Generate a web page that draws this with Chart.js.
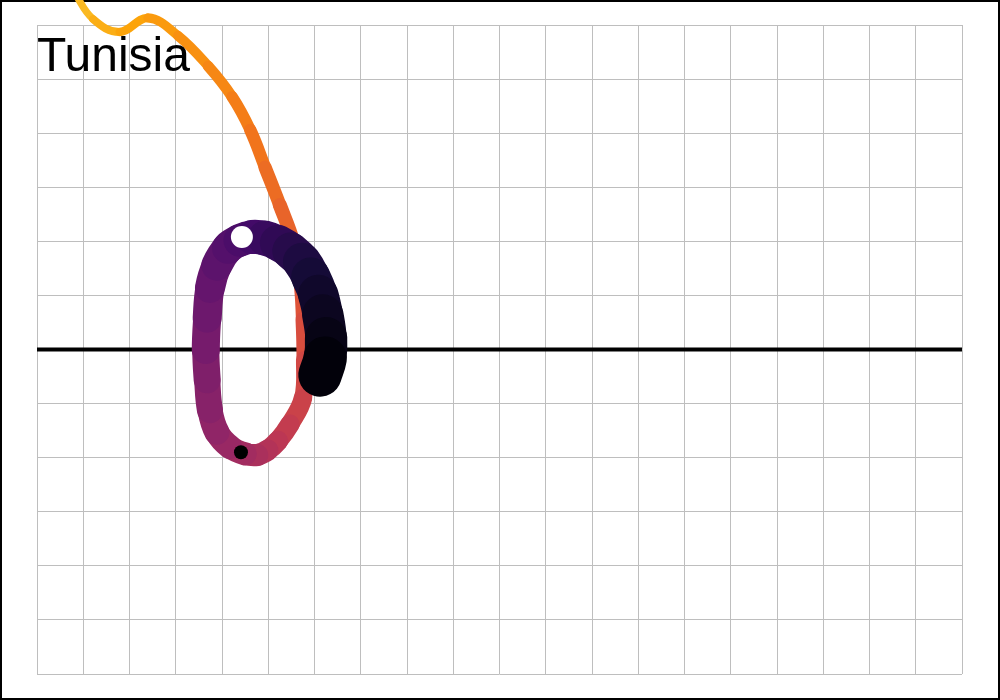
<!DOCTYPE html>
<html>
<head>
<meta charset="utf-8">
<script src="https://cdn.jsdelivr.net/npm/chart.js@4/dist/chart.umd.min.js"></script>
<style>
  body { margin: 0; background: #fff; }
  canvas { display: block; }
</style>
</head>
<body>
<canvas id="chart" width="1000" height="700"></canvas>
<script>
// trajectory, one point per time step (oldest first)
const pathX = [0.80, 1.21, 1.79, 2.40, 3.05, 3.70, 4.22, 4.61, 4.93, 5.25,
  5.54, 5.71, 5.77, 5.79, 5.75, 5.47, 5.21, 4.99, 4.76, 4.50,
  4.17, 3.89, 3.74, 3.68, 3.65, 3.68, 3.74, 3.89, 4.13, 4.39,
  4.65, 4.93, 5.21, 5.49, 5.73, 5.92, 6.08, 6.18, 6.25, 6.23, 6.12];
const pathY = [6.61, 6.11, 5.87, 6.13, 5.80, 5.24, 4.67, 4.06, 3.37, 2.67,
  1.99, 1.29, 0.55, -0.19, -0.90, -1.38, -1.69, -1.86, -1.95, -1.93,
  -1.80, -1.53, -1.12, -0.56, -0.01, 0.58, 1.14, 1.56, 1.88, 2.02,
  2.08, 2.06, 1.97, 1.82, 1.62, 1.34, 1.01, 0.64, 0.21, -0.16, -0.47];

// highlighted points
const whiteMark = { x: 4.43, y: 2.08 };
const blackMark = { x: 4.41, y: -1.90 };

const countryLabel = 'Tunisia';

// inferno colour map stops
const inferno = ['#000004', '#160b39', '#420a68', '#6a176e', '#932667',
  '#bc3754', '#dd513a', '#f37819', '#fca50a', '#f6d746', '#fcffa4'];

const hexToRgb = h => [1, 3, 5].map(i => parseInt(h.slice(i, i + 2), 16));

const infernoAt = (v) => {
  const p = Math.max(0, Math.min(1, v)) * (inferno.length - 1);
  const i = Math.min(Math.floor(p), inferno.length - 2);
  const f = p - i;
  const a = hexToRgb(inferno[i]);
  const b = hexToRgb(inferno[i + 1]);
  const c = a.map((v, k) => Math.round(v + (b[k] - v) * f));
  return `rgb(${c[0]}, ${c[1]}, ${c[2]})`;
}

const last = pathX.length - 1;
// newest = black, oldest = yellow
const colorAt = (idx) => infernoAt(0.85 * (1 - idx / last));
const widthAt = (idx) => 7 + 37 * Math.pow(idx / last, 1.15);

const pathData = pathX.map((x, i) => ({ x: x, y: pathY[i] }));

const framePlugin = {
  id: 'frame',
  beforeDraw(chart) {
    const ctx = chart.ctx;
    ctx.save();
    ctx.fillStyle = '#fff';
    ctx.fillRect(0, 0, chart.width, chart.height);
    ctx.strokeStyle = '#000';
    ctx.lineWidth = 2;
    ctx.strokeRect(1, 1, chart.width - 2, chart.height - 2);
    ctx.restore();
  },
  afterDraw(chart) {
    const ctx = chart.ctx;
    ctx.save();
    ctx.fillStyle = '#000';
    ctx.font = '48px "Liberation Sans", Arial, sans-serif';
    ctx.textBaseline = 'alphabetic';
    ctx.fillText(countryLabel, chart.chartArea.left, 71);
    ctx.restore();
  }
};

const axisOpts = (min, max) => ({
  type: 'linear',
  min: min,
  max: max,
  ticks: { display: false, stepSize: 1, maxTicksLimit: 100 },
  grid: { color: '#bebebe', lineWidth: 1, drawTicks: false },
  border: { display: false }
});

new Chart(document.getElementById('chart'), {
  type: 'scatter',
  data: {
    datasets: [
      {
        label: 'marks',
        data: [whiteMark, blackMark],
        pointRadius: [11, 7],
        pointBackgroundColor: ['#fff', '#000'],
        pointBorderWidth: 0,
        order: 0,
        clip: false
      },
      {
        label: 'path',
        data: pathData,
        showLine: true,
        pointRadius: 0,
        tension: 0.4,
        borderColor: colorAt(0),
        borderWidth: 7,
        borderCapStyle: 'round',
        borderJoinStyle: 'round',
        segment: {
          borderColor: ctx => colorAt(ctx.p0DataIndex + 0.5),
          borderWidth: ctx => widthAt(ctx.p0DataIndex + 0.5)
        },
        order: 1,
        clip: false
      },
      {
        label: 'zero',
        data: [{ x: 0, y: 0 }, { x: 20, y: 0 }],
        showLine: true,
        pointRadius: 0,
        borderColor: '#000',
        borderWidth: 4,
        order: 2
      }
    ]
  },
  options: {
    responsive: false,
    animation: false,
    events: [],
    layout: { padding: { left: 37, right: 38, top: 25, bottom: 26 } },
    plugins: { legend: { display: false }, tooltip: { enabled: false } },
    scales: {
      x: axisOpts(0, 20),
      y: axisOpts(-6, 6)
    }
  },
  plugins: [framePlugin]
});
</script>
</body>
</html>
